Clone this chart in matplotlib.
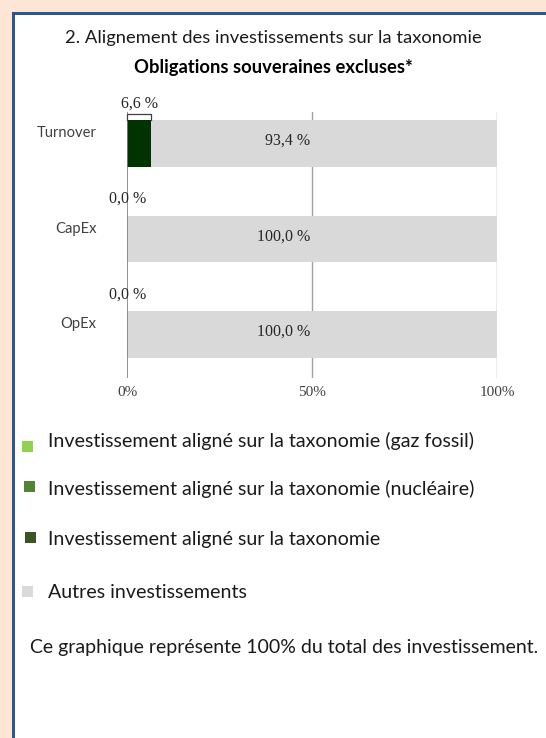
import matplotlib
matplotlib.use("Agg")
import matplotlib.pyplot as plt
from matplotlib.patches import Rectangle

categories = ["Turnover", "CapEx", "OpEx"]
gaz_fossil = [0.0, 0.0, 0.0]
nucleaire = [0.0, 0.0, 0.0]
aligne = [6.6, 0.0, 0.0]
autres = [93.4, 100.0, 100.0]
xticks = [0, 50, 100]
xtick_labels = ["0%", "50%", "100%"]
legend_labels = ["Investissement aligné sur la taxonomie (gaz fossil)",
                 "Investissement aligné sur la taxonomie (nucléaire)",
                 "Investissement aligné sur la taxonomie",
                 "Autres investissements"]
legend_colors = ["#92D050", "#548235", "#375623", "#D9D9D9"]
title1 = "2. Alignement des investissements sur la taxonomie"
title2 = "Obligations souveraines excluses*"
footer = "Ce graphique représente 100% du total des investissement."

W, H = 546, 738
fig = plt.figure(figsize=(W / 100, H / 100), dpi=100)
fig.patch.set_facecolor("#FDE6D6")

def fx(px):
    return px / W

def fy(py):
    return 1 - py / H

# white panel and blue frame
fig.patches.append(Rectangle((fx(14), 0), 1, fy(14), transform=fig.transFigure,
                             facecolor="white", edgecolor="none", zorder=-10))
fig.patches.append(Rectangle((fx(12), 0), fx(3), fy(12), transform=fig.transFigure,
                             facecolor="#2F5597", edgecolor="none", zorder=-9))
fig.patches.append(Rectangle((fx(12), fy(15)), 1, 3 / H, transform=fig.transFigure,
                             facecolor="#2F5597", edgecolor="none", zorder=-9))

sans = ["Lato", "DejaVu Sans"]
serif = ["Liberation Serif", "DejaVu Serif"]

fig.text(fx(273), fy(38), title1, ha="center", va="center", fontsize=13.2,
         family=sans, color="#1a1a1a")
fig.text(fx(273), fy(68), title2, ha="center", va="center", fontsize=13.2,
         family=sans, fontweight="bold", color="black")

# axes
ax = fig.add_axes([fx(127), fy(378), 370 / W, 266 / H])
ax.set_zorder(5)
ax.set_facecolor("none")
ax.set_xlim(0, 100)
ax.set_ylim(2.455, -0.33)
y = list(range(len(categories)))
h = 0.49
left = [0.0] * 3
for vals, col in [(gaz_fossil, "#92D050"), (nucleaire, "#548235"),
                  (aligne, "#003300"), (autres, "#D9D9D9")]:
    ax.barh(y, vals, left=left, height=h, color=col, edgecolor="none", zorder=2)
    left = [a + b for a, b in zip(left, vals)]

for xv in xticks:
    ax.axvline(xv, color="#808080" if xv == 0 else "#A0A0A0",
               lw=1.2 if xv == 0 else 1.0, zorder=3 if xv == 0 else 1)

for s in ax.spines.values():
    s.set_visible(False)
ax.set_xticks(xticks)
ax.set_xticklabels(xtick_labels, family=serif, fontsize=11, color="#404040")
ax.tick_params(axis="x", length=0, pad=6)
ax.set_yticks([])
for i, c in enumerate(categories):
    ax.text(-8.3, i - 0.11, c, ha="right", va="center", fontsize=10.6,
            family=sans, color="#404040")

# value labels
for i in range(3):
    a = aligne[i] + nucleaire[i] + gaz_fossil[i]
    ax.text(a / 2 if a > 0 else 0.3, i - 0.42, f"{a:.1f} %".replace(".", ","),
            ha="center", va="center", family=serif, fontsize=11.5, color="#262626")
    ax.text(49.5, i - 0.03, f"{autres[i]:.1f} %".replace(".", ","),
            ha="right", va="center", family=serif, fontsize=11.5, color="#262626")
# bracket for aligned value
ax.plot([0, 0, aligne[0], aligne[0]], [-h / 2, -0.31, -0.31, -h / 2],
        color="#404040", lw=0.9, zorder=4, clip_on=False)

# legend
leg_y = [441, 489, 540, 592]
sq_y = [447, 487, 538, 592]
sq_x = [27, 29, 30, 27]
for ly, sy, sx, lab, col in zip(leg_y, sq_y, sq_x, legend_labels, legend_colors):
    fig.patches.append(Rectangle((fx(sx - 5), fy(sy + 5)), fx(11), 11 / H,
                                 transform=fig.transFigure, facecolor=col,
                                 edgecolor="none"))
    fig.text(fx(48), fy(ly), lab, ha="left", va="center", fontsize=14.1,
             family=sans, color="#1a1a1a")

fig.text(fx(30), fy(648), footer, ha="left", va="center", fontsize=14.0,
         family=sans, color="#1a1a1a")

fig.savefig("out.png", dpi=100, facecolor=fig.get_facecolor())
